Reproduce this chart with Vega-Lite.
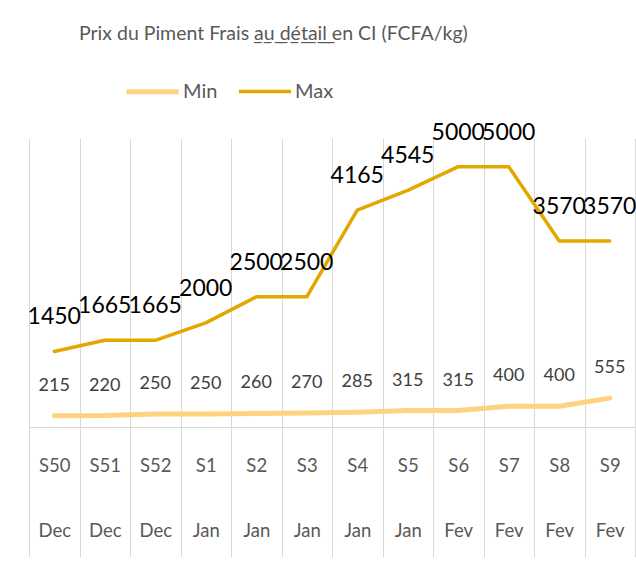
{
  "$schema": "https://vega.github.io/schema/vega-lite/v6.json",
  "width": 606,
  "height": 289,
  "autosize": {"type": "none"},
  "padding": {"left": 29, "top": 138, "right": 1, "bottom": 154},
  "background": "white",
  "config": {"font": "Lato", "view": {"stroke": null}},
  "title": {
    "text": "Prix du Piment Frais ̲a̲u̲ ̲d̲é̲t̲a̲i̲l̲ en CI (FCFA/kg)",
    "anchor": "start",
    "frame": "group",
    "dx": 50,
    "offset": 19,
    "fontSize": 19.5,
    "fontWeight": "normal",
    "color": "#595959",
    "font": "Lato"
  },
  "data": {
    "values": [
      {"semaine": "S50 Dec", "serie": "Min", "prix": 215},
      {"semaine": "S51 Dec", "serie": "Min", "prix": 220},
      {"semaine": "S52 Dec", "serie": "Min", "prix": 250},
      {"semaine": "S1 Jan", "serie": "Min", "prix": 250},
      {"semaine": "S2 Jan", "serie": "Min", "prix": 260},
      {"semaine": "S3 Jan", "serie": "Min", "prix": 270},
      {"semaine": "S4 Jan", "serie": "Min", "prix": 285},
      {"semaine": "S5 Jan", "serie": "Min", "prix": 315},
      {"semaine": "S6 Fev", "serie": "Min", "prix": 315},
      {"semaine": "S7 Fev", "serie": "Min", "prix": 400},
      {"semaine": "S8 Fev", "serie": "Min", "prix": 400},
      {"semaine": "S9 Fev", "serie": "Min", "prix": 555},
      {"semaine": "S50 Dec", "serie": "Max", "prix": 1450},
      {"semaine": "S51 Dec", "serie": "Max", "prix": 1665},
      {"semaine": "S52 Dec", "serie": "Max", "prix": 1665},
      {"semaine": "S1 Jan", "serie": "Max", "prix": 2000},
      {"semaine": "S2 Jan", "serie": "Max", "prix": 2500},
      {"semaine": "S3 Jan", "serie": "Max", "prix": 2500},
      {"semaine": "S4 Jan", "serie": "Max", "prix": 4165},
      {"semaine": "S5 Jan", "serie": "Max", "prix": 4545},
      {"semaine": "S6 Fev", "serie": "Max", "prix": 5000},
      {"semaine": "S7 Fev", "serie": "Max", "prix": 5000},
      {"semaine": "S8 Fev", "serie": "Max", "prix": 3570},
      {"semaine": "S9 Fev", "serie": "Max", "prix": 3570}
    ]
  },
  "encoding": {
    "x": {
      "field": "semaine",
      "type": "nominal",
      "sort": null,
      "scale": {"paddingInner": 0, "paddingOuter": 0},
      "axis": {
        "title": null,
        "labelExpr": "datum.value ? split(datum.value, ' ') : ''",
        "labelAngle": 0,
        "grid": true,
        "gridColor": "#d9d9d9",
        "tickBand": "extent",
        "tickSize": 130,
        "tickColor": "#d9d9d9",
        "domainColor": "#d9d9d9",
        "labelFontSize": 18.5,
        "labelFont": "Lato",
        "labelColor": "#595959",
        "labelBaseline": "middle",
        "labelLineHeight": 65,
        "labelPadding": -92,
        "labelOverlap": false,
        "labelBound": false
      }
    },
    "y": {
      "field": "prix",
      "type": "quantitative",
      "scale": {"domain": [0, 5550]},
      "axis": null
    }
  },
  "layer": [
    {
      "mark": {"type": "line", "strokeCap": "round", "strokeJoin": "round"},
      "encoding": {
        "color": {
          "field": "serie",
          "type": "nominal",
          "scale": {"domain": ["Min", "Max"], "range": ["#FFD27F", "#E3A800"]},
          "legend": {
            "orient": "none",
            "legendX": 95,
            "legendY": -75,
            "direction": "horizontal",
            "title": null,
            "symbolType": "stroke",
            "symbolSize": 2704,
            "symbolStrokeWidth": 4,
            "labelFontSize": 20,
            "labelFont": "Lato",
            "labelColor": "#595959",
            "columnPadding": 14,
            "labelOffset": 2
          }
        },
        "strokeWidth": {
          "field": "serie",
          "type": "nominal",
          "scale": {"domain": ["Min", "Max"], "range": [5, 3.5]},
          "legend": null
        }
      }
    },
    {
      "transform": [{"filter": "datum.serie === 'Max'"}],
      "mark": {"type": "text", "dy": -34, "fontSize": 23, "color": "#000000", "font": "Lato"},
      "encoding": {"text": {"field": "prix", "type": "quantitative", "format": "d"}}
    },
    {
      "transform": [{"filter": "datum.serie === 'Min'"}],
      "mark": {"type": "text", "dy": -30, "fontSize": 18, "color": "#404040", "font": "Lato"},
      "encoding": {"text": {"field": "prix", "type": "quantitative", "format": "d"}}
    }
  ]
}
